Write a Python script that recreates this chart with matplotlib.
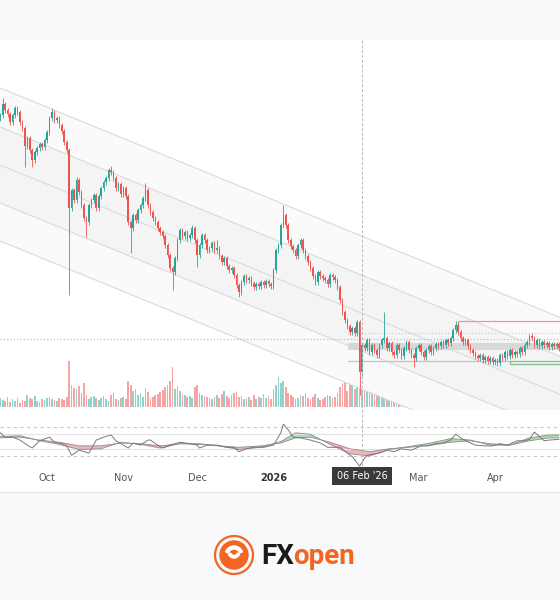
import matplotlib.pyplot as plt
import matplotlib.patches as mpatches
import matplotlib.transforms as mtransforms
from matplotlib.lines import Line2D
import pandas as pd

# daily candles, first one on 12 Sep 2025 (price units arbitrary, axis hidden)
start = pd.Timestamp('2025-09-12')
first_open = 382
closes = [
    385, 396, 390, 386, 378, 385, 392, 388, 378, 372,   # d0
    354, 362, 350, 340, 348, 352, 356, 353, 360, 368,   # d10
    382, 388, 380, 382, 375, 369, 358, 350, 292, 310,   # d20
    300, 320, 308, 295, 282, 278, 295, 300, 305, 292,   # d30
    304, 312, 318, 322, 330, 328, 322, 312, 316, 306,   # d40
    312, 304, 278, 272, 285, 280, 290, 295, 302, 310,   # d50
    295, 288, 282, 278, 272, 268, 264, 255, 245, 232,   # d60
    228, 242, 260, 270, 264, 268, 262, 265, 272, 260,   # d70
    245, 255, 265, 260, 250, 252, 257, 250, 252, 244,   # d80
    238, 242, 234, 230, 232, 225, 215, 208, 218, 224,   # d90
    220, 222, 217, 213, 216, 214, 218, 215, 219, 216,   # d100
    214, 230, 250, 255, 275, 285, 275, 260, 254, 250,   # d110
    244, 255, 260, 250, 244, 238, 232, 224, 218, 228,   # d120
    224, 222, 220, 216, 225, 223, 220, 213, 200, 188,   # d130
    180, 174, 168, 172, 167, 178, 128, 155, 152, 160,   # d140
    148, 155, 150, 145, 155, 160, 162, 152, 157, 148,   # d150
    145, 155, 150, 144, 152, 158, 150, 145, 142, 152,   # d160
    155, 148, 143, 150, 154, 148, 152, 156, 154, 158,   # d170
    155, 160, 157, 162, 170, 175, 168, 162, 158, 160,   # d180
    154, 150, 147, 144, 142, 145, 140, 143, 139, 142,   # d190
    138, 140, 137, 145, 142, 148, 144, 150, 145, 148,   # d200
    146, 152, 148, 155, 158, 164, 162, 155, 160, 154,   # d210
    158, 155, 157, 153, 156, 154, 156, 152,             # d220
]
wick_high = {1: 402, 21: 392, 31: 323, 45: 334, 59: 317, 78: 275, 88: 260,
             115: 295, 156: 188, 185: 179, 216: 167}
wick_low = {10: 333, 13: 333, 28: 205, 35: 263, 53: 247, 70: 210, 80: 233,
            97: 203, 146: 105, 168: 133, 202: 134}

volumes = [
    9, 7, 6, 10, 5, 8, 6, 9, 4, 7, 6, 12, 9, 8, 11, 6, 5, 8, 7,
    9, 10, 8, 7, 6, 9, 8, 7, 10,
    46,
    22, 19, 18, 21, 14, 24, 12, 8, 10, 11, 9, 7,
    9, 11, 8, 6, 12, 14, 8, 7, 9, 10, 8,
    26, 22,
    16, 18, 12, 14, 10, 19, 15, 9, 10, 12, 13, 15, 17,
    20, 22, 26, 40, 18, 21, 16,
    13, 12, 10, 11, 9, 20, 22, 14, 12, 11, 10, 9, 8,
    10, 12, 9, 13, 16, 11, 9, 12, 14, 15, 10, 11, 8, 9, 10, 7, 12, 8, 10, 9, 13, 9, 11, 8,
    18, 22, 30, 24, 26, 20, 14, 12,
    10, 8, 9, 12, 11, 14, 9, 8, 10, 13, 9, 7, 8, 10, 12, 11, 9, 10, 14, 20,
    24, 30, 16, 22, 28, 18, 26,
    45, 40,
    20, 26, 15, 18, 14, 20, 13, 12,
    34, 18, 12, 14, 10, 16, 12, 11, 24, 32,
    14, 20, 12, 10, 9, 15, 12, 11, 13, 10, 9, 12, 14, 10, 11, 13, 16, 12, 14, 24,
    16, 12, 14, 10, 9, 13, 11, 8, 10, 12, 9, 7, 11, 8, 10, 9, 12, 8, 10, 11,
    9, 12, 10, 13, 9, 12, 11, 14, 16, 20, 19, 17, 12, 10, 13, 9, 11, 14, 12, 10, 9, 11,
]

# oscillator (RSI style)
rsi_day = [0, 2, 5, 8, 11, 13, 16, 20, 22, 25, 27, 29, 32, 36, 39, 42, 45, 47, 50, 52,
           54, 57, 60, 61, 64, 66, 69, 73, 77, 80, 81, 84, 88, 92, 95, 97, 100, 103, 107, 111,
           114, 115, 117, 119, 122, 126, 130, 133, 135, 138, 141, 143, 146, 148, 149, 154, 157, 160, 163, 167,
           171, 174, 177, 180, 183, 185, 188, 191, 193, 197, 200, 203, 206, 210, 213, 215, 217, 221, 223, 227]
rsi_val = [62, 56, 56, 52, 45, 41, 51, 56, 49, 47, 44, 31, 38, 34, 52, 56, 59, 51, 45, 41,
           48, 45, 52, 52, 45, 41, 45, 49, 47, 45, 41, 45, 45, 42, 42, 36, 40, 42, 42, 45,
           62, 74, 66, 56, 55, 52, 48, 42, 42, 42, 34, 29, 16, 27, 31, 34, 38, 36, 40, 38,
           44, 44, 47, 48, 52, 60, 53, 48, 45, 44, 44, 47, 45, 51, 51, 53, 63, 51, 52, 53]
ma_day = [0, 8, 16, 24, 32, 41, 49, 57, 65, 73, 81, 89, 97, 106, 114,
          120, 126, 134, 142, 150, 158, 166, 175, 183, 191, 199, 207, 215, 223, 227]
ma_slow = [55, 56, 52, 49, 44, 44, 48, 47, 44, 47, 47, 44, 42, 44, 48,
           55, 56, 49, 40, 36, 40, 42, 45, 49, 51, 47, 45, 51, 55, 55]
ma_fast = [57, 58, 51, 46, 39, 40, 49, 46, 41, 47, 46, 44, 39, 42, 50,
           62, 60, 46, 33, 30, 39, 43, 48, 54, 52, 45, 45, 55, 59, 59]

# drawn annotations
channel_day = [-1, 228]
channel_top = [413, 182]
channel_offsets = [0, 39, 77, 115, 153]
last_price = 161
zone_low, zone_high = 150, 157
zone_line = 167
support = 139
swing_high = 179
cross_day = 147

month_labels = ['Oct', 'Nov', 'Dec', '2026', 'Mar', 'Apr']
month_dates = ['2025-10-01', '2025-11-01', '2025-12-01', '2026-01-01', '2026-03-01', '2026-04-01']

UP = '#26a69a'
DOWN = '#ef5350'

n = len(closes)
days = list(range(n))
opens = [first_open] + closes[:-1]
highs = [wick_high.get(i, max(o, c) + 2.5) for i, (o, c) in enumerate(zip(opens, closes))]
lows = [wick_low.get(i, min(o, c) - 2.5) for i, (o, c) in enumerate(zip(opens, closes))]
colors = [UP if c >= o else DOWN for o, c in zip(opens, closes)]

fig = plt.figure(figsize=(5.6, 6.0), dpi=100)
fig.patch.set_facecolor('#f8f9fb')

# white chart area
ax_bg = fig.add_axes([0, 108 / 600, 1, 452 / 600])
ax_bg.set_facecolor('white')
ax_bg.set_xticks([])
ax_bg.set_yticks([])
for s in ax_bg.spines.values():
    s.set_visible(False)
ax_bg.spines['bottom'].set_visible(True)
ax_bg.spines['bottom'].set_color('#e3e3e3')

xlim = (-0.1, 227.4)

# volume
ax_vol = fig.add_axes([0, 190 / 600, 1, 370 / 600])
ax_vol.patch.set_alpha(0)
vcol = ['#8fd3ca' if c == UP else '#f5a5a5' for c in colors]
ax_vol.bar(days, volumes[:n], width=0.7, color=vcol, linewidth=0)
ax_vol.set_ylim(-3, 367)
ax_vol.set_xlim(*xlim)
ax_vol.axis('off')

# price
ax = fig.add_axes([0, 190 / 600, 1, 370 / 600])
ax.patch.set_alpha(0)
tops = [channel_top[0] - off for off in channel_offsets]
bots = [channel_top[1] - off for off in channel_offsets]
fills = [('#fafafa', 0, 1), ('#f4f4f4', 1, 3), ('#fafafa', 3, 4)]
for col, a, b in fills:
    ax.fill_between(channel_day, [tops[a], bots[a]], [tops[b], bots[b]], color=col, lw=0, zorder=0)
for t, b in zip(tops, bots):
    ax.plot(channel_day, [t, b], color='#dadada', lw=0.8, zorder=1)

ax.axhline(last_price, color='#b5b5b5', lw=0.8, ls=(0, (1, 2)), zorder=1)
ax.plot([141.3, 227.4], [zone_line, zone_line], color='#c8c8c8', lw=0.8, ls=(0, (1, 2)), zorder=1)
ax.fill_between([141.3, 227.4], zone_low, zone_high, color='#d2d2d2', alpha=0.8, lw=0, zorder=1)
ax.plot([141.3, 207], [support, support], color='#c4c4c4', lw=0.9, zorder=1)
ax.add_patch(mpatches.Rectangle((207, support - 3), 30, 3, fill=False, ec='#7fbf8f', lw=0.9, zorder=1))
ax.plot([186, 186, 228], [swing_high - 7, swing_high, swing_high], color='#e59a9a', lw=0.9, zorder=1)

ax.vlines(days, lows, highs, color=colors, lw=0.6, zorder=3)
body_bottom = [min(o, c) for o, c in zip(opens, closes)]
body_height = [max(abs(c - o), 0.8) for o, c in zip(opens, closes)]
ax.bar(days, body_height, bottom=body_bottom, width=0.65, color=colors, lw=0, zorder=4)
ax.set_ylim(90, 460)
ax.set_xlim(*xlim)
ax.axis('off')

# oscillator
ax_osc = fig.add_axes([0, 130 / 600, 1, 58 / 600])
ax_osc.patch.set_alpha(0)
for lvl in (70, 30):
    ax_osc.axhline(lvl, color='#c8c8c8', lw=0.8, ls=(0, (3, 3)))
for lvl in (60, 40):
    ax_osc.axhline(lvl, color='#e4e4e4', lw=0.8)
ax_osc.fill_between(ma_day, ma_slow, ma_fast, where=[f >= s for f, s in zip(ma_fast, ma_slow)],
                    interpolate=True, color='#8fcf96', alpha=0.75, lw=0)
ax_osc.fill_between(ma_day, ma_slow, ma_fast, where=[f < s for f, s in zip(ma_fast, ma_slow)],
                    interpolate=True, color='#f09aa2', alpha=0.75, lw=0)
ax_osc.plot(ma_day, ma_slow, color='#8c8c8c', lw=0.6)
ax_osc.plot(ma_day, ma_fast, color='#8c8c8c', lw=0.6)
ax_osc.plot(rsi_day, rsi_val, color='#7a7a7a', lw=0.7)
ax_osc.set_ylim(10.7, 90.7)
ax_osc.set_xlim(*xlim)
ax_osc.axis('off')

# crosshair + date axis
tr = mtransforms.blended_transform_factory(ax.transData, fig.transFigure)
fig.add_artist(Line2D([cross_day, cross_day], [1 - 40 / 600, 1 - 468 / 600], transform=tr,
                      color='#b8b8b8', lw=0.7, ls=(0, (3, 2))))
for lab, dt in zip(month_labels, month_dates):
    d = (pd.Timestamp(dt) - start).days
    bold = lab == '2026'
    fig.text(d, 1 - 478 / 600, lab, transform=tr, ha='center', va='center', fontsize=7,
             color='#333333' if bold else '#555555', fontweight='bold' if bold else 'normal')
cross_lab = (start + pd.Timedelta(days=cross_day)).strftime("%d %b '%y")
fig.text(cross_day, 1 - 476 / 600, cross_lab, transform=tr, ha='center', va='center', fontsize=7,
         color='white', bbox=dict(boxstyle='square,pad=0.45', fc='#3a3a3a', ec='none'))

# logo
ax_logo = fig.add_axes([0, 0, 1, 108 / 600])
ax_logo.set_xlim(0, 560)
ax_logo.set_ylim(600, 492)
ax_logo.axis('off')
ax_logo.add_patch(mpatches.Circle((234, 555), 19, fill=False, ec='#f26522', lw=1.6))
ax_logo.add_patch(mpatches.Circle((234, 555), 14, color='#f26522'))
ax_logo.add_patch(mpatches.Wedge((234, 555), 9, 200, 340, width=3, color='white'))
ax_logo.add_patch(mpatches.Wedge((234, 552), 6, 20, 160, width=2.5, color='white'))
t1 = ax_logo.text(261, 556, 'FX', fontsize=20, fontweight='bold', color='#1a1a1a',
                  family='Roboto', va='center', ha='left')
fig.canvas.draw()
bb = t1.get_window_extent().transformed(ax_logo.transData.inverted())
ax_logo.text(bb.x1 - 1, 556, 'open', fontsize=20, fontweight='bold', color='#f26522',
             family='Roboto', va='center', ha='left')

fig.savefig('out.png', dpi=100, facecolor=fig.get_facecolor())
